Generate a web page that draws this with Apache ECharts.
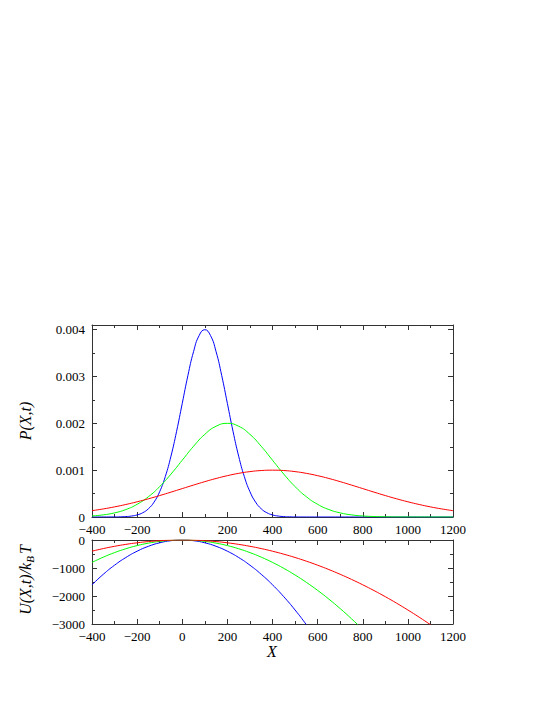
<!DOCTYPE html>
<html>
<head>
<meta charset="utf-8">
<script src="https://cdn.jsdelivr.net/npm/echarts@6/dist/echarts.min.js"></script>
<style>html,body{margin:0;padding:0;background:#fff;}#c{width:545px;height:705px;}</style>
</head>
<body>
<div id="c"></div>
<script>
// X ticks
const xTicks = [-400, -200, 0, 200, 400, 600, 800, 1000, 1200];
// P(X,t) blue curve samples
const xBlueP = [-400,-350,-300,-275,-250,-225,-200,-175,-150,-125,-100,-75,-50,-25,0,25,50,75,100,125,150,175,200,225,250,275,300,325,350,375,400,425,450,475,500,550,600,800,1000,1200];
const blueP = [0,0.0000002,0.0000013,0.0000035,0.0000088,0.0000204,0.0000444,0.000091,0.000176,0.000318,0.000541,0.000865,0.001299,0.001831,0.002426,0.003019,0.003530,0.003877,0.004000,0.003877,0.003530,0.003019,0.002426,0.001831,0.001299,0.000865,0.000541,0.000318,0.000176,0.000091,0.0000444,0.0000204,0.0000088,0.0000035,0.0000013,0.0000002,0,0,0,0];
// common X grid (step 50)
const xGrid = [-400,-350,-300,-250,-200,-150,-100,-50,0,50,100,150,200,250,300,350,400,450,500,550,600,650,700,750,800,850,900,950,1000,1050,1100,1150,1200];
const greenP = [0.0000222,0.0000456,0.0000879,0.000159,0.000271,0.000433,0.000649,0.000916,0.001213,0.001510,0.001765,0.001938,0.002000,0.001938,0.001765,0.001510,0.001213,0.000916,0.000649,0.000433,0.000271,0.000159,0.0000879,0.0000456,0.0000222,0.0000102,0.0000044,0.0000018,0.0000007,0.0000002,0,0,0];
const redP = [0.0001353,0.0001724,0.0002163,0.0002671,0.0003247,0.0003886,0.0004578,0.0005311,0.0006065,0.0006819,0.0007548,0.0008226,0.0008825,0.0009321,0.0009692,0.0009922,0.0010000,0.0009922,0.0009692,0.0009321,0.0008825,0.0008226,0.0007548,0.0006819,0.0006065,0.0005311,0.0004578,0.0003886,0.0003247,0.0002671,0.0002163,0.0001724,0.0001353];
// U(X,t)/kBT samples on xGrid (truncated past the plot bottom)
const blueU = [-1600,-1225,-900,-625,-400,-225,-100,-25,0,-25,-100,-225,-400,-625,-900,-1225,-1600,-2025,-2500,-3025,-3600];
const greenU = [-800,-612.5,-450,-312.5,-200,-112.5,-50,-12.5,0,-12.5,-50,-112.5,-200,-312.5,-450,-612.5,-800,-1012.5,-1250,-1512.5,-1800,-2112.5,-2450,-2812.5,-3200,-3612.5];
const redU = [-400,-306.25,-225,-156.25,-100,-56.25,-25,-6.25,0,-6.25,-25,-56.25,-100,-156.25,-225,-306.25,-400,-506.25,-625,-756.25,-900,-1056.25,-1225,-1406.25,-1600,-1806.25,-2025,-2256.25,-2500,-2756.25,-3025,-3306.25];

const pairs = (xs, ys) => ys.map((y, i) => [xs[i], y]);
const FONT = 'Liberation Serif';
const FRAME = '#333';
const minus = s => String(s).replace(/-/g, '\u2212');

function xAxisDef(gi, pos, show) {
  return {
    type: 'value', gridIndex: gi, position: pos, min: xTicks[0], max: xTicks[xTicks.length - 1], interval: 200,
    axisLine: { show: true, onZero: false, lineStyle: { color: FRAME, width: 1 } },
    axisTick: { show: true, inside: true, length: 5, lineStyle: { color: FRAME } },
    minorTick: { show: true, splitNumber: 2, length: 3, lineStyle: { color: FRAME } },
    splitLine: { show: false }, minorSplitLine: { show: false },
    axisLabel: { show: show, margin: 7, lineHeight: 10, color: '#000', fontFamily: FONT, fontSize: 13, formatter: v => minus(v) }
  };
}
function yAxisDef(gi, pos, show, min, max, interval, fmt) {
  return {
    type: 'value', gridIndex: gi, position: pos, min: min, max: max, interval: interval,
    axisLine: { show: true, onZero: false, lineStyle: { color: FRAME, width: 1 } },
    axisTick: { show: true, inside: true, length: 5, lineStyle: { color: FRAME } },
    minorTick: { show: true, splitNumber: 2, length: 3, lineStyle: { color: FRAME } },
    splitLine: { show: false }, minorSplitLine: { show: false },
    axisLabel: { show: show, margin: 7, lineHeight: 10, color: '#000', fontFamily: FONT, fontSize: 13, formatter: fmt }
  };
}
const fmtP = v => {
  const k = v / 0.001;
  if (Math.abs(k - Math.round(k)) > 1e-6) return '';
  return Math.round(k) === 0 ? '0' : (Math.round(k) * 0.001).toFixed(3);
};
const fmtU = v => minus(v);

const line = (xi, yi, data, color) => ({
  type: 'line', xAxisIndex: xi, yAxisIndex: yi, data: data, smooth: true, showSymbol: false,
  symbol: 'none', lineStyle: { color: color, width: 1 }, itemStyle: { color: color }, clip: true, animation: false
});

const chart = echarts.init(document.getElementById('c'), null, { renderer: 'svg' });
chart.setOption({
  backgroundColor: '#fff',
  animation: false,
  grid: [
    { left: 92, top: 325, width: 361, height: 192 },
    { left: 92, top: 540, width: 361, height: 84 }
  ],
  xAxis: [
    xAxisDef(0, 'bottom', true), xAxisDef(0, 'top', false),
    xAxisDef(1, 'bottom', true), xAxisDef(1, 'top', false)
  ],
  yAxis: [
    yAxisDef(0, 'left', true, 0, 0.0041, 0.001, fmtP), yAxisDef(0, 'right', false, 0, 0.0041, 0.001, fmtP),
    yAxisDef(1, 'left', true, -3000, 0, 1000, fmtU), yAxisDef(1, 'right', false, -3000, 0, 1000, fmtU)
  ],
  series: [
    line(0, 0, pairs(xBlueP, blueP), '#0000ff'),
    line(0, 0, pairs(xGrid, greenP), '#00ff00'),
    line(0, 0, pairs(xGrid, redP), '#ff0000'),
    line(2, 2, pairs(xGrid, blueU), '#0000ff'),
    line(2, 2, pairs(xGrid, greenU), '#00ff00'),
    line(2, 2, pairs(xGrid, redU), '#ff0000')
  ],
  graphic: [
    { type: 'text', x: 25, y: 421, rotation: Math.PI / 2,
      style: { text: 'P(X,t)', fontFamily: FONT, fontStyle: 'italic', fontSize: 16, fill: '#000', align: 'center', verticalAlign: 'middle' } },
    { type: 'text', x: 25, y: 580, rotation: Math.PI / 2,
      style: { text: '{m|U(X,t)/k}{s|B}{m|T}', align: 'center', verticalAlign: 'middle', fill: '#000',
        rich: {
          m: { fontFamily: FONT, fontStyle: 'italic', fontSize: 16, lineHeight: 20, fill: '#000' },
          s: { fontFamily: FONT, fontStyle: 'italic', fontSize: 11, lineHeight: 20, verticalAlign: 'bottom', padding: [8, 2, 0, 0], fill: '#000' }
        } } },
    { type: 'text', x: 272, y: 651,
      style: { text: 'X', fontFamily: FONT, fontStyle: 'italic', fontSize: 16, fill: '#000', align: 'center', verticalAlign: 'middle' } }
  ]
});
</script>
</body>
</html>
